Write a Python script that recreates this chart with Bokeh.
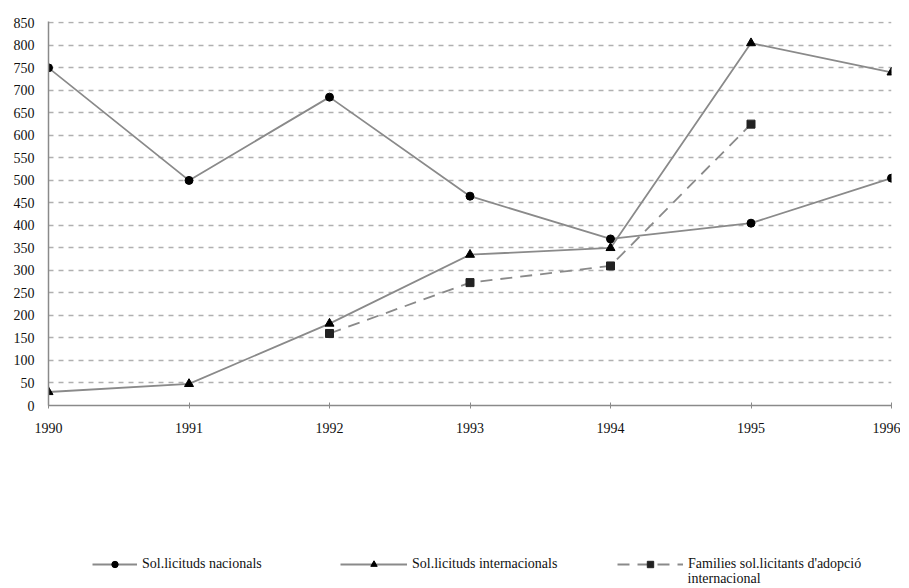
from bokeh.plotting import figure
from bokeh.models import Legend, LegendItem, Range1d, FixedTicker, Label
from bokeh.layouts import column
from bokeh.embed import file_html
from bokeh.resources import INLINE

years = [1990, 1991, 1992, 1993, 1994, 1995, 1996]
nacionals = [750, 500, 685, 465, 370, 405, 505]
internacionals = [30, 48, 182, 335, 350, 805, 740]
fam_years = [1992, 1993, 1994, 1995]
families = [160, 273, 310, 625]
y_ticks = list(range(0, 851, 50))

FONT = "Liberation Serif"
LINE = "#8a8a8a"


def draw_series(fig):
    r1l = fig.line(years, nacionals, line_color=LINE, line_width=1.8)
    r1m = fig.scatter(years, nacionals, marker="circle", size=8, color="black")
    r2l = fig.line(years, internacionals, line_color=LINE, line_width=1.8)
    r2m = fig.scatter(years, internacionals, marker="triangle", size=9, color="black")
    r3l = fig.line(fam_years, families, line_color=LINE, line_width=1.8, line_dash="12 8")
    r3m = fig.scatter(fam_years, families, marker="square", size=8, color="#222222")
    return (r1l, r1m), (r2l, r2m), (r3l, r3m)


p = figure(width=900, height=445, output_backend="svg", toolbar_location=None,
           x_range=Range1d(1990, 1996), y_range=Range1d(0, 853),
           min_border_left=48, min_border_right=9, min_border_top=21,
           min_border_bottom=40)
p.outline_line_color = None
p.background_fill_color = "white"
p.border_fill_color = "white"

p.xgrid.grid_line_color = None
p.ygrid.grid_line_color = "#b0b0b0"
p.ygrid.grid_line_dash = "5 5"
p.ygrid.grid_line_width = 1.5
p.ygrid.ticker = FixedTicker(ticks=y_ticks)

p.xaxis.ticker = FixedTicker(ticks=years)
p.yaxis.ticker = FixedTicker(ticks=y_ticks)
for ax in (p.xaxis, p.yaxis):
    ax.axis_line_color = LINE
    ax.axis_line_width = 1.5
    ax.major_tick_line_color = LINE
    ax.minor_tick_line_color = None
    ax.major_label_text_font = FONT
    ax.major_label_text_font_size = "14px"
    ax.major_label_text_color = "#111111"
p.xaxis.major_tick_in = 3
p.xaxis.major_tick_out = 3
p.xaxis.major_label_standoff = 14
p.yaxis.major_tick_in = 0
p.yaxis.major_tick_out = 0
p.yaxis.major_label_standoff = 14

draw_series(p)

# legend strip below the chart (same series, ranges keep them out of view)
p2 = figure(width=900, height=143, output_backend="svg", toolbar_location=None,
            x_axis_type=None, y_axis_type=None, min_border=0,
            min_border_left=48, min_border_right=9,
            x_range=Range1d(0, 1), y_range=Range1d(0, 1))
p2.outline_line_color = None
p2.xgrid.grid_line_color = None
p2.ygrid.grid_line_color = None
(l1, m1), (l2, m2), (l3, m3) = draw_series(p2)


def mk_legend(label, renderers, loc, gw):
    lg = Legend(items=[LegendItem(label=label, renderers=list(renderers))],
                location=loc, orientation="horizontal",
                glyph_width=gw, glyph_height=16, label_standoff=5,
                label_text_font=FONT, label_text_font_size="14px",
                label_text_color="#111111", padding=0, margin=0,
                border_line_color=None, background_fill_alpha=0,
                spacing=0, label_height=16)
    p2.add_layout(lg, "center")


mk_legend("Sol.licituds nacionals", (l1, m1), (92 - 48, 16), 45)
mk_legend("Sol.licituds internacionals", (l2, m2), (340 - 48, 16), 67)
mk_legend("Families sol.licitants d'adopció", (l3, m3), (617 - 48, 16), 66)
p2.add_layout(Label(x=687 - 48, y=10, x_units="screen", y_units="screen",
                    text="internacional", text_font=FONT, text_font_size="14px",
                    text_color="#111111", text_baseline="middle", text_align="left"))

layout = column(p, p2, spacing=0)
open("out.html", "w").write(file_html(layout, INLINE))
